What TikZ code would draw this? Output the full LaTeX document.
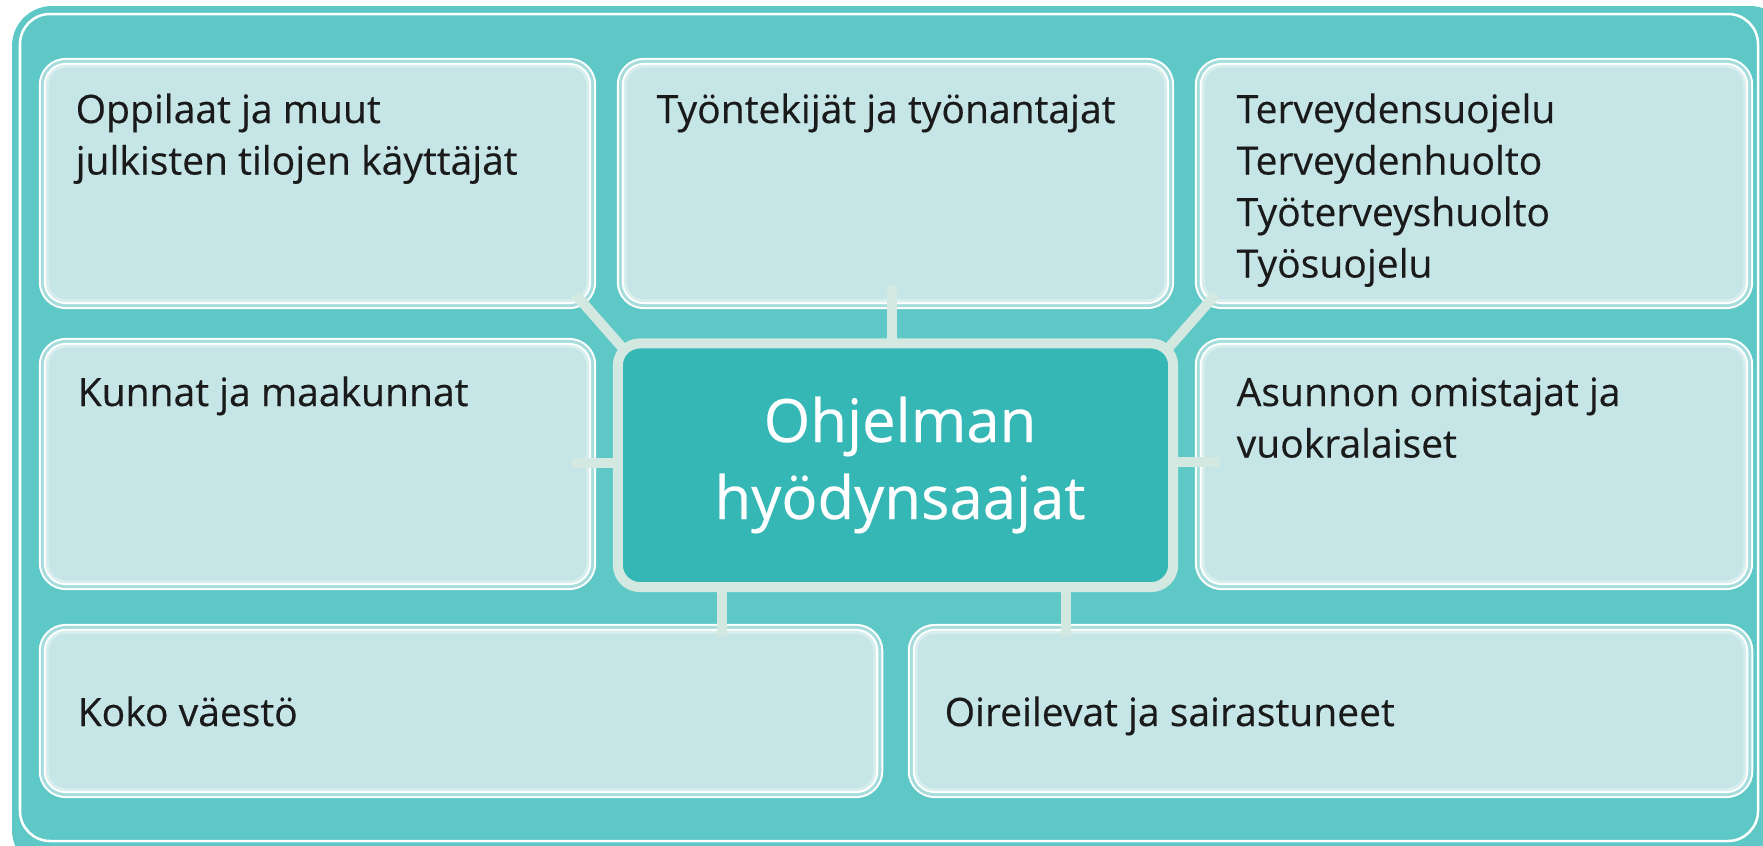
\documentclass[tikz,border=0pt]{standalone}
\usepackage{fontspec}
\setmainfont{Open Sans}[UprightFeatures={FakeBold=0.35}]
\definecolor{bgteal}{HTML}{5EC8C6}
\definecolor{boxfill}{HTML}{C6E5E7}
\definecolor{band}{HTML}{A6DDDC}
\definecolor{innerlight}{HTML}{D8EEEE}
\definecolor{hubfill}{HTML}{35B8B5}
\definecolor{conn}{HTML}{D3E8E0}
\definecolor{ink}{HTML}{1A1A1A}
\pgfdeclarelayer{front}
\pgfsetlayers{main,front}
\begin{document}
\begin{tikzpicture}[x=0.01cm,y=-0.01cm,
  panel/.style={rectangle, inner sep=0pt, outer sep=0pt, rounded corners=0.17cm, fill=boxfill,
    preaction={draw=white, line width=0.2cm},
    preaction={draw=band, line width=0.16cm},
    preaction={draw=white, line width=0.1cm},
    preaction={draw=innerlight, line width=0.06cm}},
  hub/.style={rectangle, inner sep=0pt, outer sep=0pt, rounded corners=0.22cm, fill=hubfill, draw=conn, line width=0.1cm},
  link/.style={draw=conn, line width=0.1cm},
  txt/.style={anchor=base west, inner sep=0pt, text=ink, font=\fontsize{11.1pt}{14pt}\selectfont},
  hubtxt/.style={anchor=base, inner sep=0pt, text=white, font=\fontsize{17pt}{22pt}\selectfont}]
\useasboundingbox (0,0) rectangle (1763,845);
\fill[bgteal, rounded corners=0.4cm] (12,6) rectangle (1790,870);
\draw[white, line width=0.025cm, rounded corners=0.3cm] (20,14) rectangle (1758,841);

% panels
\node[panel, minimum width=5.37cm, minimum height=2.31cm] (b1) at (317.5,183.5) {};
\node[panel, minimum width=5.37cm, minimum height=2.31cm] (b2) at (895.5,183.5) {};
\node[panel, minimum width=5.38cm, minimum height=2.31cm] (b3) at (1474,183.5) {};
\node[panel, minimum width=5.37cm, minimum height=2.32cm] (b4) at (317.5,464) {};
\node[panel, minimum width=5.38cm, minimum height=2.32cm] (b5) at (1474,464) {};
\node[panel, minimum width=8.24cm, minimum height=1.54cm] (b6) at (461,711) {};
\node[panel, minimum width=8.25cm, minimum height=1.54cm] (b7) at (1330.5,711) {};

% hub (on front layer)
\begin{pgfonlayer}{front}
\node[hub, minimum width=5.55cm, minimum height=2.435cm] (c) at (895.5,465.25) {};
\node[hubtxt] (h1) at (900,442) {Ohjelman};
\node[hubtxt] (h2) at (900,519) {hyödynsaajat};
\end{pgfonlayer}

% connectors
\draw[link] ([shift={(-11,-5)}]b1.south east) -- ([shift={(6.4,6.4)}]c.north west);
\draw[link] ([shift={(-3.5,-14)}]b2.south) coordinate (c2s) -- (c2s |- c.north);
\draw[link] ([shift={(11,-5)}]b3.south west) -- ([shift={(-6.4,6.4)}]c.north east);
\draw[link] ([shift={(-14,-1)}]b4.east) coordinate (c4s) -- (c4s -| c.west);
\draw[link] ([shift={(15,-2)}]b5.west) coordinate (c5s) -- (c5s -| c.east);
\draw[link] ([shift={(261,3)}]b6.north) coordinate (c6s) -- (c6s |- c.south);
\draw[link] ([shift={(-264.5,3)}]b7.north) coordinate (c7s) -- (c7s |- c.south);

% texts
\node[txt] (t1a) at (75,123) {Oppilaat ja muut};
\node[txt] (t1b) at (75,174.5) {julkisten tilojen käyttäjät};
\node[txt] (t2) at (656,123) {Työntekijät ja työnantajat};
\node[txt] (t3a) at (1236,123) {Terveydensuojelu};
\node[txt] (t3b) at (1236,174.5) {Terveydenhuolto};
\node[txt] (t3c) at (1236,226) {Työterveyshuolto};
\node[txt] (t3d) at (1236,277.5) {Työsuojelu};
\node[txt] (t4) at (77,406) {Kunnat ja maakunnat};
\node[txt] (t5a) at (1236,406) {Asunnon omistajat ja};
\node[txt] (t5b) at (1236,457.5) {vuokralaiset};
\node[txt] (t6) at (77,726) {Koko väestö};
\node[txt] (t7) at (944,726) {Oireilevat ja sairastuneet};
\end{tikzpicture}
\end{document}
